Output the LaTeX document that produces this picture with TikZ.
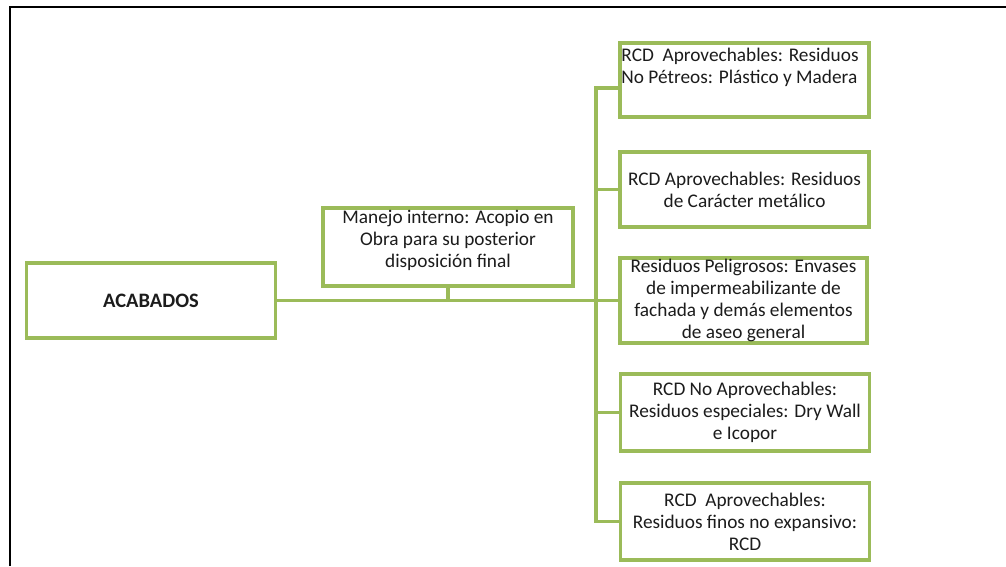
\documentclass[tikz,border=0pt]{standalone}
\usepackage{fontspec}
\setmainfont{Carlito}
\usetikzlibrary{calc}
\definecolor{leaf}{HTML}{9BBB59}
\definecolor{ink}{HTML}{1C1C1C}
\begin{document}
\begin{tikzpicture}[x=1pt,y=-1pt,
  box/.style={draw=leaf, line width=3.5pt, fill=white, inner sep=0pt,
    minimum width=249pt, text=ink, align=center,
    font=\fontsize{19.3}{22}\selectfont},
  link/.style={draw=leaf, line width=3.5pt},
  frame/.style={draw=black, line width=2pt}]
\useasboundingbox (0,0) rectangle (1006,566);
% outer frame (top and left edges only)
\draw[frame] (9.5,566) -- (9.5,7) -- (1006,7);

% root and intermediate step
\node[box, minimum width=249pt, minimum height=75pt, font=\fontsize{20.5}{22}\selectfont\bfseries]
  (acab) at (151,300.5) {ACABADOS};
\node[box, minimum width=250pt, minimum height=78pt]
  (man) at (448,247) {\parbox[c][74pt][t]{246pt}{\centering Manejo interno: Acopio en\\Obra para su posterior\\disposición final}};

% destination boxes
\node[box, minimum height=74pt] (b1) at (744.5,80) {};
\node[anchor=north west, inner sep=0pt, text=ink, align=left,
  font=\fontsize{19.3}{22}\selectfont] (b1t) at ($(b1.north west)+(3,7)$)
  {RCD\ \ Aprovechables: Residuos\\No Pétreos: Plástico y Madera};
\node[box, minimum height=75pt] (b2) at (744.5,189.5)
  {RCD Aprovechables: Residuos\\de Carácter metálico};
\node[box, minimum width=247pt, minimum height=85pt] (b3) at (743.5,300.5)
  {Residuos Peligrosos: Envases\\de impermeabilizante de\\fachada y demás elementos\\de aseo general};
\node[box, minimum height=77pt] (b4) at (745,412.5)
  {RCD No Aprovechables:\\Residuos especiales: Dry Wall\\e Icopor};
\node[box, minimum height=77pt] (b5) at (745,521.5)
  {RCD\ \ Aprovechables:\\Residuos finos no expansivo:\\RCD};

% connectors
\coordinate (trunk) at (596,0);
\coordinate (b1in) at ($(b1.west)+(0,8)$);
\draw[link] (acab.east) -- (b3.west);
\draw[link] (man.south) -- (man.south |- acab.east);
\draw[link] (b1in) -| (trunk |- b5.west) -- (b5.west);
\draw[link] (trunk |- b2.west) -- (b2.west);
\draw[link] (trunk |- b4.west) -- (b4.west);
\end{tikzpicture}
\end{document}
